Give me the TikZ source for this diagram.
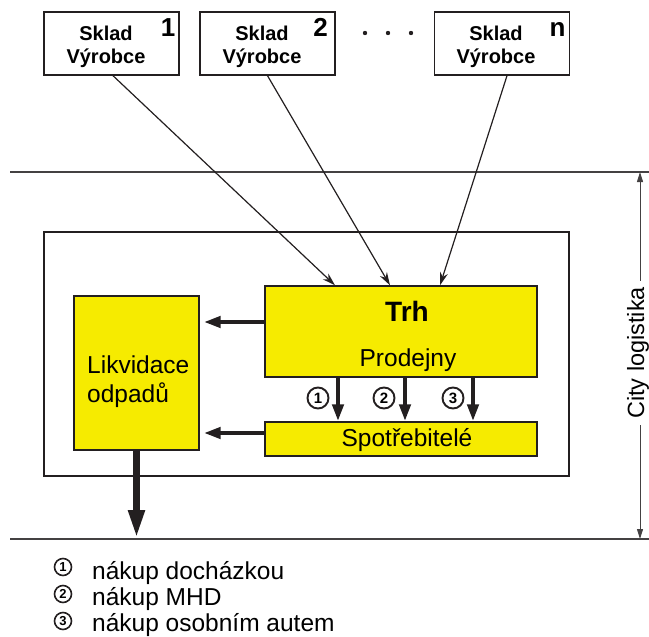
\documentclass[tikz,border=0pt]{standalone}
\usepackage{fontspec}
\setmainfont{Liberation Sans}
\usetikzlibrary{arrows.meta}

\definecolor{zluta}{RGB}{246,235,0}
\definecolor{cerna}{RGB}{35,31,32}

\newcommand{\pismo}[1]{\fontsize{#1}{#1}\selectfont}

\tikzset{
  sklad/.style={draw=cerna, line width=1.4pt, minimum width=135pt, minimum height=63pt, inner sep=0pt},
  blok/.style={draw=cerna, line width=1.4pt, fill=zluta, inner sep=0pt},
  popis/.style={inner sep=0pt, font=\pismo{24.5}},
  tenka/.style={draw=cerna, line width=1.2pt, -{Stealth[length=13pt,width=8pt]}},
  tlusta/.style={draw=cerna, line width=4.5pt, -{Triangle[length=17pt,width=11pt]}},
  cislice/.style={inner sep=0pt, font=\pismo{15}\bfseries},
  cislicemala/.style={inner sep=0pt, font=\pismo{13}\bfseries},
  obrys/.style={draw=cerna, line width=1.9pt},
}

\begin{document}
\begin{tikzpicture}[x=1pt, y=-1pt]
  \useasboundingbox (0,0) rectangle (649,637);

  % sklady vyrobcu
  \node[sklad] (sklad1) at (111.5,43.5) {};
  \node[sklad] (sklad2) at (267.5,43.5) {};
  \node[sklad] (skladn) at (502,43.5) {};
  \node[align=center, inner sep=0pt, font=\fontsize{20}{23}\selectfont\bfseries] (sklad1t) at (106,47) {Sklad\\Výrobce};
  \node[align=center, inner sep=0pt, font=\fontsize{20}{23}\selectfont\bfseries] (sklad2t) at (262,47) {Sklad\\Výrobce};
  \node[align=center, inner sep=0pt, font=\fontsize{20}{23}\selectfont\bfseries] (skladnt) at (496,47) {Sklad\\Výrobce};
  \node[anchor=base, inner sep=0pt, font=\pismo{26}\bfseries] (c1) at (168,37) {1};
  \node[anchor=base, inner sep=0pt, font=\pismo{26}\bfseries] (c2) at (320.5,37) {2};
  \node[anchor=base, inner sep=0pt, font=\pismo{26}\bfseries] (cn) at (557.5,36) {n};
  \foreach \x in {365,388,411}
    \fill[cerna] (\x,33) circle (2.2);

  % hranice mesta
  \draw[cerna!85, line width=1.4pt] (10,172) -- (649,172);
  \draw[cerna!85, line width=1.4pt] (10,539) -- (649,539);
  \coordinate (horni) at (640,172);
  \coordinate (dolni) at (640,539);
  \draw[cerna!85, line width=1pt, {Triangle[length=10pt,width=6pt]}-{Triangle[length=10pt,width=6pt]}] (horni) -- (dolni);
  \node[rotate=90, fill=white, inner xsep=6pt, inner ysep=0pt, font=\pismo{23.5}] (citylog) at (638,353) {City logistika};

  \node[draw=cerna, line width=1.3pt, minimum width=525pt, minimum height=244pt, inner sep=0pt] (mesto) at (306.5,354) {};

  % trh, spotrebitele, odpady
  \node[blok, minimum width=272pt, minimum height=91pt] (trh) at (401,331.5) {};
  \node[blok, minimum width=272pt, minimum height=34pt] (spotr) at (401,439) {};
  \node[blok, minimum width=125pt, minimum height=154pt] (likv) at (136.5,373) {};
  \node[anchor=base, inner sep=0pt, font=\pismo{28}\bfseries] (trhnazev) at (407,321) {Trh};
  \node[popis, anchor=base] (prodejny) at (408,366) {Prodejny};
  \node[popis, anchor=base] (spotrt) at (407,446) {Spotřebitelé};
  \node[popis, anchor=base west] (likv1) at (87,373) {Likvidace};
  \node[popis, anchor=base west] (likv2) at (87,402) {odpadů};

  % zasobovani trhu
  \draw[tenka] ([xshift=1.5pt]sklad1.south) -- ([xshift=-66pt]trh.north);
  \draw[tenka] (sklad2.south) -- ([xshift=-11pt]trh.north);
  \draw[tenka] ([xshift=5pt]skladn.south) -- ([xshift=39pt]trh.north);

  % nakup
  \draw[tlusta] ([xshift=-63pt]trh.south) -- ([xshift=-63pt]spotr.north);
  \draw[tlusta] ([xshift=4pt]trh.south) -- ([xshift=4pt]spotr.north);
  \draw[tlusta] ([xshift=72pt]trh.south) -- ([xshift=72pt]spotr.north);
  \node[cislice] (k1) at (318,398) {1};
  \node[cislice] (k2) at (384,398) {2};
  \node[cislice] (k3) at (453,398) {3};
  \foreach \k in {k1,k2,k3}
    \draw[obrys] (\k) circle (10.5);

  % odpady
  \coordinate (ztrhu) at ([yshift=9.5pt]trh.west);
  \coordinate (zespotr) at ([yshift=6pt]spotr.west);
  \draw[tlusta, shorten >=4pt] (ztrhu) -- (ztrhu -| likv.east);
  \draw[tlusta, shorten >=4pt] (zespotr) -- (zespotr -| likv.east);
  \draw[cerna, line width=7.5pt, -{Triangle[length=29pt,width=15pt]}] (likv.south) -- (likv.south |- dolni);

  % legenda
  \node[cislicemala] (l1) at (63,567) {1};
  \node[cislicemala] (l2) at (63,594) {2};
  \node[cislicemala] (l3) at (63,621) {3};
  \foreach \k in {l1,l2,l3}
    \draw[obrys, line width=1.6pt] (\k) circle (8.5);
  \node[popis, anchor=base west] (leg1) at (92,579) {nákup docházkou};
  \node[popis, anchor=base west] (leg2) at (92,605) {nákup MHD};
  \node[popis, anchor=base west] (leg3) at (92,631) {nákup osobním autem};
\end{tikzpicture}
\end{document}
